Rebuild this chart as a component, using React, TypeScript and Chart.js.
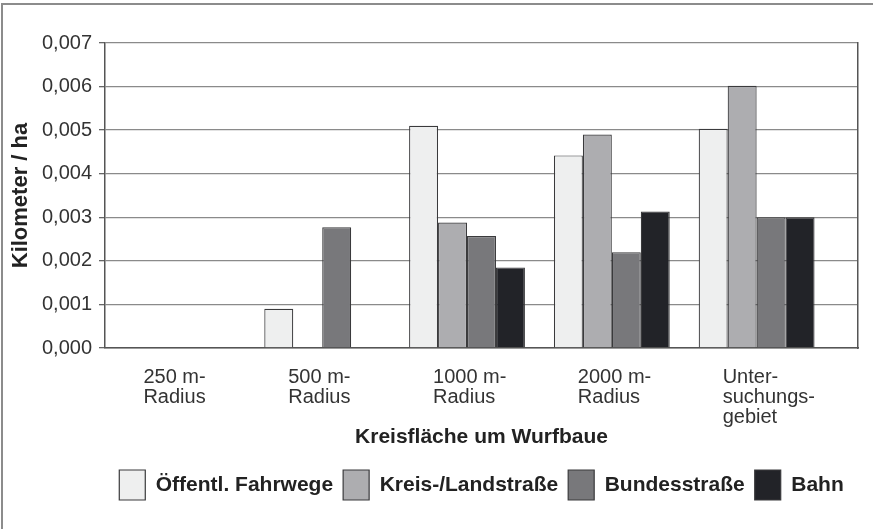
import React, { useEffect, useRef } from "react";
import { Chart, registerables } from "chart.js";

Chart.register(...registerables);

const categories: string[][] = [
  ["250 m-", "Radius"],
  ["500 m-", "Radius"],
  ["1000 m-", "Radius"],
  ["2000 m-", "Radius"],
  ["Unter-", "suchungs-", "gebiet"],
];

const seriesNames = ["Öffentl. Fahrwege", "Kreis-/Landstraße", "Bundesstraße", "Bahn"];

const oeffentlFahrwege = [0, 0.0009, 0.0051, 0.00442, 0.00503];
const kreisLandstrasse = [0, 0, 0.00288, 0.0049, 0.00602];
const bundesstrasse = [0, 0.00277, 0.00257, 0.0022, 0.003];
const bahn = [0, 0, 0.00185, 0.00313, 0.003];

const seriesColors = ["#eeefef", "#adadb0", "#78787b", "#222328"];

const yTicks = [0, 0.001, 0.002, 0.003, 0.004, 0.005, 0.006, 0.007];

const FONT = "'Liberation Sans', Arial, Helvetica, sans-serif";

export default function App() {
  const ref = useRef<HTMLCanvasElement | null>(null);

  useEffect(() => {
    if (!ref.current) return;
    const values = [oeffentlFahrwege, kreisLandstrasse, bundesstrasse, bahn];
    const chart = new Chart(ref.current, {
      type: "bar",
      data: {
        datasets: values.map((arr, si) => ({
          label: seriesNames[si],
          data: arr.map((v, i) => ({ x: i, y: v })),
          backgroundColor: seriesColors[si],
          borderColor: "#3a3a3c",
          borderWidth: 1.2,
          borderSkipped: "start" as const,
          categoryPercentage: 0.8,
          barPercentage: 1,
        })),
      },
      options: {
        animation: false,
        responsive: false,
        maintainAspectRatio: false,
        layout: { padding: { left: 8, right: 15, top: 43, bottom: 19 } },
        plugins: {
          tooltip: { enabled: false },
          legend: {
            position: "bottom",
            fullSize: false,
            labels: {
              boxWidth: 26,
              boxHeight: 30,
              padding: 10,
              color: "#222",
              font: { family: FONT, size: 21, weight: "bold" },
            },
          },
        },
        scales: {
          x: {
            type: "linear",
            min: -0.5,
            max: 4.7,
            offset: false,
            grid: { display: false, drawTicks: false },
            border: { display: true, color: "#555", width: 1.5 },
            ticks: {
              stepSize: 1,
              includeBounds: false,
              autoSkip: false,
              maxRotation: 0,
              align: "start",
              labelOffset: -34,
              padding: 19,
              color: "#333",
              font: { family: FONT, size: 20, lineHeight: 1.0 },
              callback: (v: any) => {
                const i = Number(v);
                return Number.isInteger(i) && categories[i] ? categories[i] : "";
              },
            },
            title: {
              display: true,
              text: "Kreisfläche um Wurfbaue",
              color: "#222",
              font: { family: FONT, size: 21, weight: "bold" },
              padding: { top: 0, bottom: 10 },
            },
            afterFit: (s: any) => {
              s.height = 112;
            },
          },
          y: {
            min: 0,
            max: 0.007,
            afterBuildTicks: (s: any) => {
              s.ticks = yTicks.map((v) => ({ value: v }));
            },
            grid: { color: "#8a8a8a", lineWidth: 1.3, tickLength: 6, tickColor: "#666" },
            border: { display: true, color: "#555", width: 1.5 },
            ticks: {
              padding: 7,
              color: "#333",
              font: { family: FONT, size: 20 },
              callback: (v: any) => Number(v).toFixed(3).replace(".", ","),
            },
            title: {
              display: true,
              text: "Kilometer / ha",
              color: "#222",
              font: { family: FONT, size: 22, weight: "bold" },
              padding: { top: 0, bottom: 0 },
            },
            afterFit: (s: any) => {
              s.width = 97;
            },
          },
          y2: {
            position: "right",
            min: 0,
            max: 0.007,
            grid: { drawOnChartArea: false, drawTicks: false },
            border: { display: true, color: "#555", width: 1.5 },
            ticks: { display: false },
            afterFit: (s: any) => {
              s.width = 0;
            },
          },
        },
      },
    } as any);
    return () => chart.destroy();
  }, []);

  return (
    <div style={{ position: "fixed", left: 0, top: 0, width: 873, height: 529, background: "#fff" }}>
      <canvas ref={ref} width={873} height={529} style={{ position: "absolute", left: 0, top: 0 }} />
      <div
        style={{
          position: "absolute",
          left: 1,
          top: 3,
          width: 880,
          height: 540,
          borderLeft: "2px solid #8c8c8c",
          borderTop: "2px solid #8c8c8c",
          pointerEvents: "none",
        }}
      />
    </div>
  );
}
